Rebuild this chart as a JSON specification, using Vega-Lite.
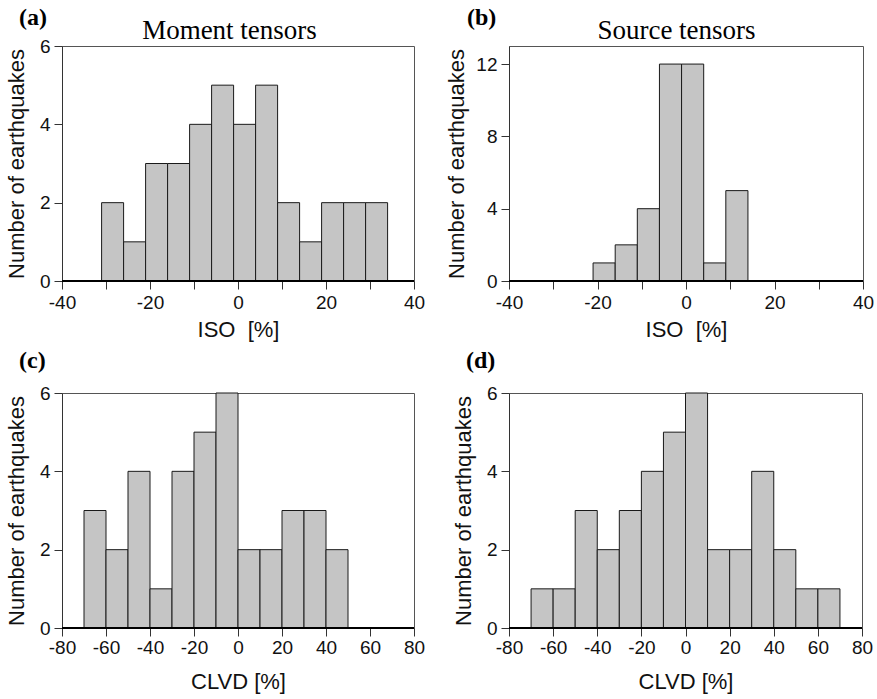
{
  "$schema": "https://vega.github.io/schema/vega-lite/v6.json",
  "background": "white",
  "padding": {"left": 4, "top": 5, "right": 3, "bottom": 2},
  "datasets": {
    "iso_mt": [
      {"lo": -31, "hi": -26, "n": 2}, {"lo": -26, "hi": -21, "n": 1}, {"lo": -21, "hi": -16, "n": 3},
      {"lo": -16, "hi": -11, "n": 3}, {"lo": -11, "hi": -6, "n": 4}, {"lo": -6, "hi": -1, "n": 5},
      {"lo": -1, "hi": 4, "n": 4}, {"lo": 4, "hi": 9, "n": 5}, {"lo": 9, "hi": 14, "n": 2},
      {"lo": 14, "hi": 19, "n": 1}, {"lo": 19, "hi": 24, "n": 2}, {"lo": 24, "hi": 29, "n": 2},
      {"lo": 29, "hi": 34, "n": 2}
    ],
    "iso_st": [
      {"lo": -21, "hi": -16, "n": 1}, {"lo": -16, "hi": -11, "n": 2}, {"lo": -11, "hi": -6, "n": 4},
      {"lo": -6, "hi": -1, "n": 12}, {"lo": -1, "hi": 4, "n": 12}, {"lo": 4, "hi": 9, "n": 1},
      {"lo": 9, "hi": 14, "n": 5}
    ],
    "clvd_mt": [
      {"lo": -70, "hi": -60, "n": 3}, {"lo": -60, "hi": -50, "n": 2}, {"lo": -50, "hi": -40, "n": 4},
      {"lo": -40, "hi": -30, "n": 1}, {"lo": -30, "hi": -20, "n": 4}, {"lo": -20, "hi": -10, "n": 5},
      {"lo": -10, "hi": 0, "n": 6}, {"lo": 0, "hi": 10, "n": 2}, {"lo": 10, "hi": 20, "n": 2},
      {"lo": 20, "hi": 30, "n": 3}, {"lo": 30, "hi": 40, "n": 3}, {"lo": 40, "hi": 50, "n": 2}
    ],
    "clvd_st": [
      {"lo": -70, "hi": -60, "n": 1}, {"lo": -60, "hi": -50, "n": 1}, {"lo": -50, "hi": -40, "n": 3},
      {"lo": -40, "hi": -30, "n": 2}, {"lo": -30, "hi": -20, "n": 3}, {"lo": -20, "hi": -10, "n": 4},
      {"lo": -10, "hi": 0, "n": 5}, {"lo": 0, "hi": 10, "n": 6}, {"lo": 10, "hi": 20, "n": 2},
      {"lo": 20, "hi": 30, "n": 2}, {"lo": 30, "hi": 40, "n": 4}, {"lo": 40, "hi": 50, "n": 2},
      {"lo": 50, "hi": 60, "n": 1}, {"lo": 60, "hi": 70, "n": 1}
    ]
  },
  "columns": 2,
  "spacing": {"row": 112, "column": 95},
  "bounds": "flush",
  "concat": [
    {
      "width": 352, "height": 235,
      "title": {"text": "(a)", "anchor": "start", "frame": "bounds", "dx": 14, "offset": -14},
      "data": {"name": "iso_mt"},
      "layer": [
        {
          "mark": {"type": "bar", "fill": "#c5c5c5", "stroke": "#1a1a1a", "strokeWidth": 1},
          "encoding": {
            "x": {"field": "lo", "type": "quantitative", "scale": {"domain": [-40, 40], "nice": false, "zero": false},
                  "axis": {"values": [-40, -30, -20, -10, 0, 10, 20, 30, 40], "labelExpr": "datum.value % 20 == 0 ? '' + datum.value : ''", "title": "ISO\u00a0\u00a0[%]"}},
            "x2": {"field": "hi"},
            "y": {"field": "n", "type": "quantitative", "scale": {"domain": [0, 6], "nice": false},
                  "axis": {"values": [0, 1, 2, 3, 4, 5, 6], "labelExpr": "datum.value % 2 == 0 ? '' + datum.value : ''", "title": "Number of earthquakes", "titleX": -39}},
            "y2": {"datum": 0}
          }
        },
        {
          "mark": {"type": "rule", "stroke": "#000", "strokeWidth": 1.5},
          "encoding": {
            "x": {"datum": -40, "type": "quantitative",
                  "axis": {"orient": "top", "title": "Moment tensors", "domain": false, "ticks": false, "labels": false,
                           "titleFont": "Liberation Serif", "titleFontSize": 27, "titleColor": "#000", "titlePadding": 8, "titleBaseline": "alphabetic", "titleX": 167}},
            "x2": {"datum": 40},
            "y": {"datum": 0, "type": "quantitative"}
          }
        }
      ],
      "resolve": {"axis": {"x": "independent"}}
    },
    {
      "width": 354, "height": 235,
      "title": {"text": "(b)", "anchor": "start", "frame": "bounds", "dx": 22, "offset": -14},
      "data": {"name": "iso_st"},
      "layer": [
        {
          "mark": {"type": "bar", "fill": "#c5c5c5", "stroke": "#1a1a1a", "strokeWidth": 1},
          "encoding": {
            "x": {"field": "lo", "type": "quantitative", "scale": {"domain": [-40, 40], "nice": false, "zero": false},
                  "axis": {"values": [-40, -30, -20, -10, 0, 10, 20, 30, 40], "labelExpr": "datum.value % 20 == 0 ? '' + datum.value : ''", "title": "ISO\u00a0\u00a0[%]"}},
            "x2": {"field": "hi"},
            "y": {"field": "n", "type": "quantitative", "scale": {"domain": [0, 13], "nice": false},
                  "axis": {"values": [0, 2, 4, 6, 8, 10, 12], "labelExpr": "datum.value % 4 == 0 ? '' + datum.value : ''", "title": "Number of earthquakes", "titleX": -46}},
            "y2": {"datum": 0}
          }
        },
        {
          "mark": {"type": "rule", "stroke": "#000", "strokeWidth": 1.5},
          "encoding": {
            "x": {"datum": -40, "type": "quantitative",
                  "axis": {"orient": "top", "title": "Source tensors", "domain": false, "ticks": false, "labels": false,
                           "titleFont": "Liberation Serif", "titleFontSize": 27, "titleColor": "#000", "titlePadding": 8, "titleBaseline": "alphabetic", "titleX": 167}},
            "x2": {"datum": 40},
            "y": {"datum": 0, "type": "quantitative"}
          }
        }
      ],
      "resolve": {"axis": {"x": "independent"}}
    },
    {
      "width": 352, "height": 235,
      "title": {"text": "(c)", "anchor": "start", "frame": "bounds", "dx": 14, "offset": 11},
      "data": {"name": "clvd_mt"},
      "layer": [
        {
          "mark": {"type": "bar", "fill": "#c5c5c5", "stroke": "#1a1a1a", "strokeWidth": 1},
          "encoding": {
            "x": {"field": "lo", "type": "quantitative", "scale": {"domain": [-80, 80], "nice": false, "zero": false},
                  "axis": {"values": [-80, -70, -60, -50, -40, -30, -20, -10, 0, 10, 20, 30, 40, 50, 60, 70, 80], "labelExpr": "datum.value % 20 == 0 ? '' + datum.value : ''", "title": "CLVD [%]", "titlePadding": 14, "labelPadding": 2}},
            "x2": {"field": "hi"},
            "y": {"field": "n", "type": "quantitative", "scale": {"domain": [0, 6], "nice": false},
                  "axis": {"values": [0, 1, 2, 3, 4, 5, 6], "labelExpr": "datum.value % 2 == 0 ? '' + datum.value : ''", "title": "Number of earthquakes", "titleX": -39}},
            "y2": {"datum": 0}
          }
        },
        {
          "mark": {"type": "rule", "stroke": "#000", "strokeWidth": 1.5},
          "encoding": {
            "x": {"datum": -80, "type": "quantitative"},
            "x2": {"datum": 80},
            "y": {"datum": 0, "type": "quantitative"}
          }
        }
      ]
    },
    {
      "width": 353, "height": 235,
      "title": {"text": "(d)", "anchor": "start", "frame": "bounds", "dx": 14, "offset": 11},
      "data": {"name": "clvd_st"},
      "layer": [
        {
          "mark": {"type": "bar", "fill": "#c5c5c5", "stroke": "#1a1a1a", "strokeWidth": 1},
          "encoding": {
            "x": {"field": "lo", "type": "quantitative", "scale": {"domain": [-80, 80], "nice": false, "zero": false},
                  "axis": {"values": [-80, -70, -60, -50, -40, -30, -20, -10, 0, 10, 20, 30, 40, 50, 60, 70, 80], "labelExpr": "datum.value % 20 == 0 ? '' + datum.value : ''", "title": "CLVD [%]", "titlePadding": 14, "labelPadding": 2}},
            "x2": {"field": "hi"},
            "y": {"field": "n", "type": "quantitative", "scale": {"domain": [0, 6], "nice": false},
                  "axis": {"values": [0, 1, 2, 3, 4, 5, 6], "labelExpr": "datum.value % 2 == 0 ? '' + datum.value : ''", "title": "Number of earthquakes", "titleX": -39}},
            "y2": {"datum": 0}
          }
        },
        {
          "mark": {"type": "rule", "stroke": "#000", "strokeWidth": 1.5},
          "encoding": {
            "x": {"datum": -80, "type": "quantitative"},
            "x2": {"datum": 80},
            "y": {"datum": 0, "type": "quantitative"}
          }
        }
      ]
    }
  ],
  "config": {
    "view": {"stroke": "#555", "strokeWidth": 1},
    "axis": {
      "grid": false, "domainColor": "#333", "tickColor": "#333", "tickSize": 8,
      "labelFont": "Liberation Sans", "labelFontSize": 19, "labelColor": "#111", "labelPadding": 4,
      "labelFlush": false, "labelOverlap": false,
      "titleFont": "Liberation Sans", "titleFontSize": 22, "titleFontWeight": "normal", "titleColor": "#111"
    },
    "axisY": {"titleBaseline": "alphabetic"},
    "axisX": {"titlePadding": 7},
    "title": {"font": "Liberation Serif", "fontWeight": "bold", "fontSize": 24, "color": "#000"}
  }
}
